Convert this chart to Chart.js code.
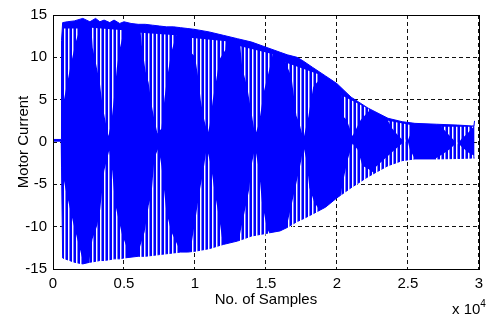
<!DOCTYPE html>
<html><head><meta charset="utf-8">
<script src="https://cdn.jsdelivr.net/npm/chart.js@4/dist/chart.umd.min.js"></script>
<style>
html,body{margin:0;padding:0;background:#fff;}
#wrap{position:relative;width:489px;height:324px;overflow:hidden;}
canvas{display:block;}
.exp{position:absolute;left:452px;top:301px;font-family:"Liberation Sans",Arial,sans-serif;font-size:15px;line-height:15px;color:#000;white-space:nowrap;}
.exp span{position:relative;top:-7px;font-size:10px;}
</style></head><body>
<div id="wrap"><canvas id="c" width="489" height="324"></canvas>
<div class="exp">x 10<span>4</span></div>
</div>
<script>
// ---- data ----
const xTickValues = [0, 5000, 10000, 15000, 20000, 25000, 30000];
const xTickLabels = ['0', '0.5', '1', '1.5', '2', '2.5', '3'];
const yTickValues = [-15, -10, -5, 0, 5, 10, 15];
const yTickLabels = ['-15', '-10', '-5', '0', '5', '10', '15'];

const sampleX = [0, 20, 580, 600, 680, 1000, 1500, 2100, 2600, 3000, 3300, 3600, 4000, 4300, 4700,
  5000, 5500, 6000, 6500, 7000, 7500, 8000, 8500, 9000, 9500, 10000, 11000, 12000, 13000, 14000,
  15000, 16000, 16500, 17200, 17600, 18300, 19200, 20000, 21000, 22200, 23600, 24600, 25500, 27000,
  28500, 29500, 29650, 29700];
const upperEnvelope = [2.2, 0.3, 0.3, 12.0, 14.1, 14.2, 14.3, 14.6, 14.2, 14.6, 14.2, 14.4, 14.1, 14.4, 14.0,
  14.2, 14.0, 13.9, 13.9, 13.8, 13.7, 13.6, 13.6, 13.5, 13.4, 13.3, 13.0, 12.6, 12.2, 11.8,
  11.2, 10.6, 10.3, 10.0, 9.6, 8.8, 7.8, 6.9, 5.3, 4.0, 2.8, 2.4, 2.2, 2.1,
  2.0, 1.9, 1.9, 2.5];
const lowerEnvelope = [0.1, 0.1, 0.1, -3.0, -13.7, -13.9, -14.2, -14.4, -14.2, -14.1, -14.0, -14.0, -13.9, -13.8, -13.8,
  -13.7, -13.6, -13.5, -13.5, -13.4, -13.3, -13.2, -13.1, -13.0, -13.0, -12.9, -12.6, -12.1, -11.7, -11.1,
  -10.8, -10.5, -10.1, -9.4, -9.1, -8.5, -7.7, -6.6, -5.4, -4.1, -2.8, -2.2, -2.0, -2.0,
  -1.95, -1.9, -1.9, -1.9];

// white sampling gaps in the upper half (outlines, null separates gaps)
const upperGapX = [650, 750, 1000, 1300, 1600, 1900, null,
  2700, 2800, 3000, 3300, 3500, 3900, 4100, 4300, 4500, 4700, 5000, null,
  6180, 6250, 6530, 6740, 6940, 7150, 7360, 7640, 7850, 8060, 8330, 8680, null,
  9650, 9700, 10000, 10200, 10420, 10630, 10900, 11040, 11250, 11460, 11740, 12150, 12200, null,
  13200, 13330, 13680, 14030, 14240, 14510, 14860, 15210, 15420, 15450, null,
  16390, 16800, 17150, 17360, 17640, 17990, 18330, 18680, 18700, null,
  20350, 20400, 20700, 21100, 21670, 22220, 22250, null,
  23600, 23900, 24300, 24650, 24930, 25140, 25200, null,
  27360, 27800, 28200, 28470, 28800, 29200, 29500, 29650];
const upperGapY = [13.4, 4.8, 7.0, 9.5, 11.8, 13.4, null,
  13.5, 11.1, 9.5, 7.0, 4.2, 0.7, 2.2, 5.3, 8.8, 11.0, 13.2, null,
  12.9, 11.5, 8.3, 7.0, 4.5, 2.6, 1.0, 1.6, 5.1, 7.8, 10.6, 12.6, null,
  12.3, 10.6, 10.1, 8.0, 4.8, 2.8, 1.0, 2.0, 4.9, 6.9, 9.8, 10.9, 11.9, null,
  11.3, 8.8, 6.5, 3.0, 0.8, 2.2, 6.0, 8.4, 9.8, 10.4, null,
  9.4, 7.7, 3.1, 2.2, 0.35, 3.0, 6.5, 7.2, 8.0, null,
  5.5, 3.1, 2.6, 0.7, 2.6, 3.6, 3.9, null,
  2.5, 1.6, 0.8, 0.2, -0.1, 0.8, 2.0, null,
  1.8, 1.0, 0.3, -0.3, 0.4, 1.0, 1.6, 1.8];

// white sampling gaps in the lower half
const lowerGapX = [600, 650, 900, 1200, 1400, 1700, 1900, 2100, 2100, null,
  2570, 2570, 2780, 3125, 3330, 3610, 3960, 4170, 4375, 4650, 4860, 5200, 5200, null,
  6110, 6110, 6460, 6740, 6940, 7150, 7430, 7640, 7990, 8330, 8890, 8890, null,
  9720, 9720, 10000, 10350, 10560, 10830, 11110, 11390, 11740, 11940, 11940, null,
  13120, 13120, 13470, 13820, 14030, 14240, 14510, 14720, 15070, 15280, 15280, null,
  16460, 16460, 16800, 17150, 17500, 17640, 17850, 18060, 18400, 18750, 18750, null,
  20280, 20280, 20420, 20760, 21110, 21460, 21800, 22220, 22570, 22570, null,
  22700, 22700, 24100, 24650, 24930, 25140, 25500, 25500, null,
  26900, 26900, 27500, 28000, 28470, 28800, 29300, 29650, 29650];
const lowerGapY = [-14.1, -3.5, -5.7, -7.9, -9.4, -11.4, -12.7, -14.0, -14.7, null,
  -14.5, -13.9, -11.5, -9.8, -7.9, -3.4, -1.0, -3.4, -7.3, -9.4, -10.9, -12.5, -14.0, null,
  -13.8, -12.5, -10.6, -7.5, -6.2, -1.9, -0.7, -2.8, -8.3, -10.6, -12.6, -13.5, null,
  -13.3, -12.5, -9.5, -5.6, -3.8, -0.7, -2.7, -5.9, -9.4, -11.7, -12.6, null,
  -12.0, -11.3, -8.5, -5.6, -2.4, -0.7, -3.3, -7.1, -10.2, -10.9, -11.1, null,
  -10.4, -10.0, -7.5, -4.8, -2.1, -0.5, -2.1, -5.4, -7.1, -8.0, -8.5, null,
  -6.7, -6.2, -4.8, -2.1, -0.2, -0.9, -2.8, -3.2, -3.6, -3.9, null,
  -3.9, -3.0, -0.9, -0.1, 0.5, -0.9, -2.0, -2.3, null,
  -2.3, -2.0, -1.4, -0.8, 0.0, -0.6, -1.3, -1.6, -2.2];

// ---- build ----
function pts(xs, ys) { return xs.map((x, i) => ({x: x, y: ys[i]})); }
function splitShapes(xs, ys) {
  const out = []; let cur = [];
  xs.forEach((x, i) => {
    if (x === null) { if (cur.length) out.push(cur); cur = []; }
    else cur.push({x: x, y: ys[i]});
  });
  if (cur.length) out.push(cur);
  return out;
}

const pc = document.createElement('canvas'); pc.width = 4; pc.height = 1;
const pctx = pc.getContext('2d');
pctx.fillStyle = '#ffffff'; pctx.fillRect(0, 0, 1, 1);
pctx.fillStyle = 'rgba(255,255,255,0.45)'; pctx.fillRect(1, 0, 1, 1);
const stripes = pctx.createPattern(pc, 'repeat');

const BLUE = '#0000ff';
const FONT = '"Liberation Sans", Arial, Helvetica, sans-serif';

const datasets = [
  {data: pts(sampleX, upperEnvelope), fill: 1, backgroundColor: BLUE,
   borderColor: BLUE, borderWidth: 1, pointRadius: 0, order: 1},
  {data: pts(sampleX, lowerEnvelope), fill: false,
   borderColor: BLUE, borderWidth: 1, pointRadius: 0, order: 1}
];
splitShapes(upperGapX, upperGapY).concat(splitShapes(lowerGapX, lowerGapY)).forEach(shape => {
  datasets.push({data: shape, fill: 'shape', backgroundColor: stripes,
    borderColor: 'rgba(0,0,0,0)', borderWidth: 0, pointRadius: 0, order: 0});
});

const frame = {
  id: 'frame',
  afterDatasetsDraw(chart) {
    const {ctx, chartArea: a} = chart;
    ctx.save();
    ctx.strokeStyle = '#000';
    ctx.lineWidth = 1;
    ctx.setLineDash([]);
    ctx.strokeRect(Math.round(a.left) + 0.5, Math.round(a.top) + 0.5,
      Math.round(a.right - a.left), Math.round(a.bottom - a.top));
    ctx.restore();
  }
};

new Chart(document.getElementById('c'), {
  type: 'line',
  data: {datasets: datasets},
  options: {
    responsive: false,
    maintainAspectRatio: false,
    devicePixelRatio: 1,
    animation: false,
    events: [],
    elements: {line: {tension: 0}},
    layout: {padding: {top: 11, right: 4, left: 0, bottom: 0}},
    plugins: {legend: {display: false}, tooltip: {enabled: false}},
    scales: {
      x: {
        type: 'linear', min: 0, max: 30000,
        afterBuildTicks: s => { s.ticks = xTickValues.map(v => ({value: v})); },
        afterFit: s => { s.height = 55; },
        ticks: {callback: (v, i) => xTickLabels[i], color: '#000', padding: 6, maxRotation: 0,
                font: {family: FONT, size: 15}},
        grid: {color: '#111', lineWidth: 1, drawTicks: false},
        border: {display: false, dash: [4, 3]},
        title: {display: true, text: 'No. of Samples', color: '#000',
                font: {family: FONT, size: 15}, padding: {top: 0, bottom: 15}}
      },
      y: {
        type: 'linear', min: -15, max: 15,
        afterBuildTicks: s => { s.ticks = yTickValues.map(v => ({value: v})); },
        afterFit: s => { s.width = 53; },
        ticks: {callback: (v, i) => yTickLabels[i], color: '#000', padding: 6,
                font: {family: FONT, size: 15}},
        grid: {color: '#111', lineWidth: 1, drawTicks: false},
        border: {display: false, dash: [4, 3]},
        title: {display: true, text: 'Motor Current', color: '#000',
                font: {family: FONT, size: 15}, padding: {top: 15, bottom: 0}}
      }
    }
  },
  plugins: [frame]
});
</script>
</body></html>
